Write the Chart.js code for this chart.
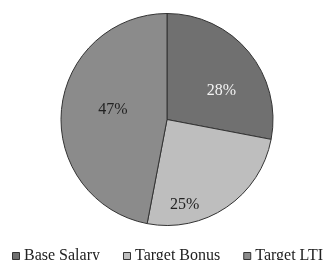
<!DOCTYPE html>
<html>
<head>
<meta charset="utf-8">
<script src="https://cdn.jsdelivr.net/npm/chart.js@4.4.1/dist/chart.umd.min.js"></script>
<style>
  html, body { margin: 0; padding: 0; background: #fff; overflow: hidden; }
  canvas { display: block; }
</style>
</head>
<body>
<canvas id="pieChartCanvas" width="334" height="260"></canvas>
<script>
// chart values
const categories = ['Base Salary', 'Target Bonus', 'Target LTI'];
const shares = [28, 25, 47];

// look of the slices and their labels
const sliceColors = ['#707070', '#bebebe', '#8b8b8b'];
const labelColors = ['#f4f4f4', '#222222', '#222222'];
const labelAngleFrac = [0.62, 0.75, 0.53];   // where the label sits along the slice
const labelRadiusFrac = [0.58, 0.82, 0.52];  // how far out from the centre

const fontFamily = '"Liberation Serif", "Times New Roman", serif';

// draws the percentage text on each slice
const sliceLabels = {
  id: 'sliceLabels',
  afterDatasetsDraw(chart) {
    const ctx = chart.ctx;
    const meta = chart.getDatasetMeta(0);
    ctx.save();
    ctx.font = '16px ' + fontFamily;
    ctx.textAlign = 'center';
    ctx.textBaseline = 'middle';
    meta.data.forEach((arc, i) => {
      const a = arc.startAngle + labelAngleFrac[i] * (arc.endAngle - arc.startAngle);
      const r = arc.outerRadius * labelRadiusFrac[i];
      ctx.fillStyle = labelColors[i];
      ctx.fillText(shares[i] + '%', arc.x + Math.cos(a) * r, arc.y + Math.sin(a) * r);
    });
    ctx.restore();
  }
};

new Chart(document.getElementById('pieChartCanvas').getContext('2d'), {
  type: 'pie',
  data: {
    labels: categories,
    datasets: [{
      data: shares,
      backgroundColor: sliceColors,
      borderColor: '#333333',
      borderWidth: 1,
      radius: 106
    }]
  },
  options: {
    responsive: false,
    animation: false,
    layout: {
      // negative sides only widen the legend row, the pie area stays on the canvas
      padding: { left: -37.5, right: -42.5, top: 18, bottom: -14 }
    },
    plugins: {
      tooltip: { enabled: false },
      legend: {
        position: 'bottom',
        labels: {
          usePointStyle: true,
          pointStyle: 'rect',
          boxWidth: 0.01,
          boxHeight: 7,
          padding: 27,
          color: '#222222',
          font: { family: fontFamily, size: 16 }
        }
      }
    }
  },
  plugins: [sliceLabels]
});
</script>
</body>
</html>
